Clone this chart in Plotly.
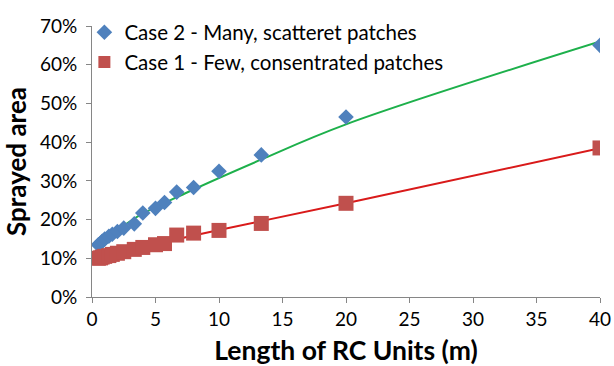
import plotly.graph_objects as go

length_m = [0.5, 0.67, 0.8, 1.0, 1.33, 1.6, 2.0, 2.5, 3.33, 4.0, 5.0, 5.71, 6.67, 8.0, 10.0, 13.33, 20.0, 40.0]
case2_many = [0.135, 0.139, 0.144, 0.150, 0.157, 0.162, 0.169, 0.178, 0.189, 0.217, 0.229, 0.244, 0.271, 0.283, 0.325, 0.367, 0.465, 0.650]
case1_few = [0.100, 0.101, 0.103, 0.105, 0.107, 0.110, 0.113, 0.117, 0.123, 0.128, 0.135, 0.138, 0.160, 0.165, 0.172, 0.190, 0.242, 0.385]

# trendlines
trend2_x = [0.5, 3.4, 7.35, 13.25, 20.0, 40.0]
trend2_y = [0.133, 0.204, 0.268, 0.354, 0.446, 0.660]
trend1_x = [0.5, 10.0, 20.0, 40.0]
trend1_y = [0.105, 0.173, 0.242, 0.384]

name2 = "Case 2 - Many, scatteret patches"
name1 = "Case 1 - Few, consentrated patches"

x_ticks = [0, 5, 10, 15, 20, 25, 30, 35, 40]
y_ticks = [0, 0.1, 0.2, 0.3, 0.4, 0.5, 0.6, 0.7]

font = "Lato, 'Open Sans', sans-serif"

fig = go.Figure()
fig.add_trace(go.Scatter(x=trend2_x, y=trend2_y, mode="lines", line=dict(color="#1DB04B", width=2, shape="spline"),
                         showlegend=False, hoverinfo="skip"))
fig.add_trace(go.Scatter(x=trend1_x, y=trend1_y, mode="lines", line=dict(color="#D91A1A", width=2, shape="spline"),
                         showlegend=False, hoverinfo="skip"))
fig.add_trace(go.Scatter(x=length_m, y=case2_many, mode="markers", name=name2,
                         marker=dict(symbol="diamond", size=12, color="#4F81BD")))
fig.add_trace(go.Scatter(x=length_m, y=case1_few, mode="markers", name=name1,
                         marker=dict(symbol="square", size=15, color="#C0504D")))

axis_common = dict(showgrid=False, zeroline=False, showline=True, linecolor="#868686",
                   linewidth=1, ticks="outside", tickcolor="#868686", ticklen=5, automargin=False,
                   tickfont=dict(family=font, size=19, color="#000000"))

fig.update_xaxes(range=[0, 40], tickvals=x_ticks, ticktext=[str(v) for v in x_ticks],
                 title=dict(text="<b>Length of RC Units (m)</b>", font=dict(family=font, size=26.5, color="#000"), standoff=14),
                 **axis_common)
fig.update_yaxes(range=[0, 0.7], tickvals=y_ticks, ticktext=[f"{int(round(v*100))}%" for v in y_ticks],
                 ticklabelstandoff=5,
                 title=dict(text="<b>Sprayed area</b>", font=dict(family=font, size=26, color="#000"), standoff=5),
                 **axis_common)

fig.update_layout(
    width=614, height=366,
    margin=dict(l=92, r=14, t=17, b=69),
    paper_bgcolor="white", plot_bgcolor="white",
    legend=dict(x=-0.015, y=1.05, xanchor="left", yanchor="top",
                font=dict(family=font, size=20.5, color="#000"),
                bgcolor="rgba(255,255,255,0)", itemsizing="constant", tracegroupgap=0),
)

fig.write_html("out.html", config={"displayModeBar": False, "staticPlot": True},
               post_script="document.body.style.margin='0px';document.body.style.overflow='hidden';")
